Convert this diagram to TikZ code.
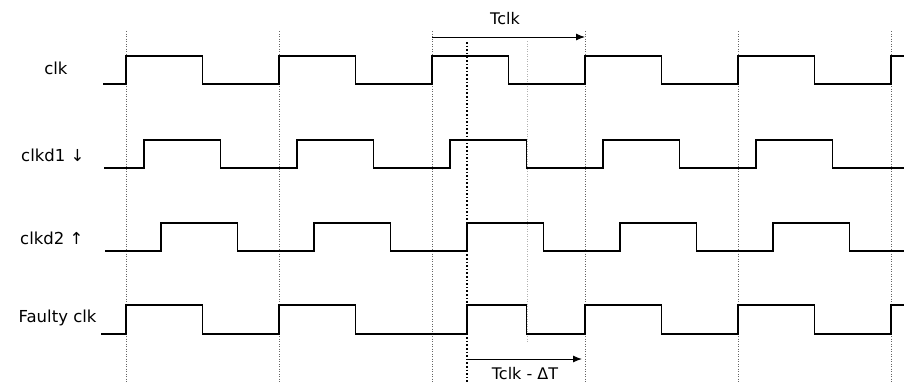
\documentclass[tikz,border=0pt]{standalone}
\usepackage{fontspec}
\setmainfont{DejaVu Sans}
\usetikzlibrary{arrows,arrows.meta,positioning}

\tikzset{
  wave/.style={line width=1.4pt, line join=miter},
  gridline/.style={dotted, gray!80!black, line width=0.5pt},
  faultline/.style={dotted, line width=1.6pt},
  period/.style={-{Latex[length=9pt,width=7pt]}, line width=1pt},
  siglabel/.style={anchor=east, font=\fontsize{16.5}{18}\selectfont},
  perlabel/.style={font=\fontsize{16}{18}\selectfont},
}

\begin{document}
\begin{tikzpicture}[x=1pt,y=-1pt]
\useasboundingbox (0,0) rectangle (904,383);
% Grid lines, one per clk period
\foreach \t in {126,279,432,585,738,891}
  \draw[gridline] (\t,31) -- (\t,383);
% Faulty edge and missed edge markers
\draw[faultline] (467,42) -- (467,383);
\draw[gridline, gray!60] (527,41) -- (527,342);
% Signal names
\node[siglabel] (lclk) at (71,68) {clk};
\node[siglabel] (lclkda) at (88,155) {clkd1 ↓};
\node[siglabel] (lclkdb) at (87,238) {clkd2 ↑};
\node[siglabel] (lfaulty) at (100,318) {Faulty clk};
% clk
\draw[wave] (103,84) \foreach \t in {126,279,432,585,738} {
  -- (\t,84) -- (\t,56) -- (\t+76.5,56) -- (\t+76.5,84) } -- (891,84) -- (891,56) -- (904,56);
% clkd1
\draw[wave] (104,168) \foreach \t in {144,297,450,603,756} {
  -- (\t,168) -- (\t,140) -- (\t+76.5,140) -- (\t+76.5,168) } -- (904,168);
% clkd2
\draw[wave] (105,251) \foreach \t in {161,314,467,620,773} {
  -- (\t,251) -- (\t,223) -- (\t+76.5,223) -- (\t+76.5,251) } -- (904,251);
% Faulty clk
\draw[wave] (101,334) \foreach \r/\f in {126/202.5,279/355.5,467/526.5,585/661.5,738/814.5} {
  -- (\r,334) -- (\r,305) -- (\f,305) -- (\f,334) } -- (891,334) -- (891,305) -- (904,305);
% Periods
\coordinate (tclkA) at (432,37);
\coordinate (tclkB) at (585,37);
\draw[period] (tclkA) -- (tclkB);
\node[perlabel] (ltclk) at (505,19) {Tclk};
\coordinate (tdelA) at (467,359);
\coordinate (tdelB) at (582,359);
\draw[period] (tdelA) -- (tdelB);
\node[perlabel, anchor=south, inner sep=0pt] (ltdel) at (525,379.5) {Tclk - ΔT};
\end{tikzpicture}
\end{document}
